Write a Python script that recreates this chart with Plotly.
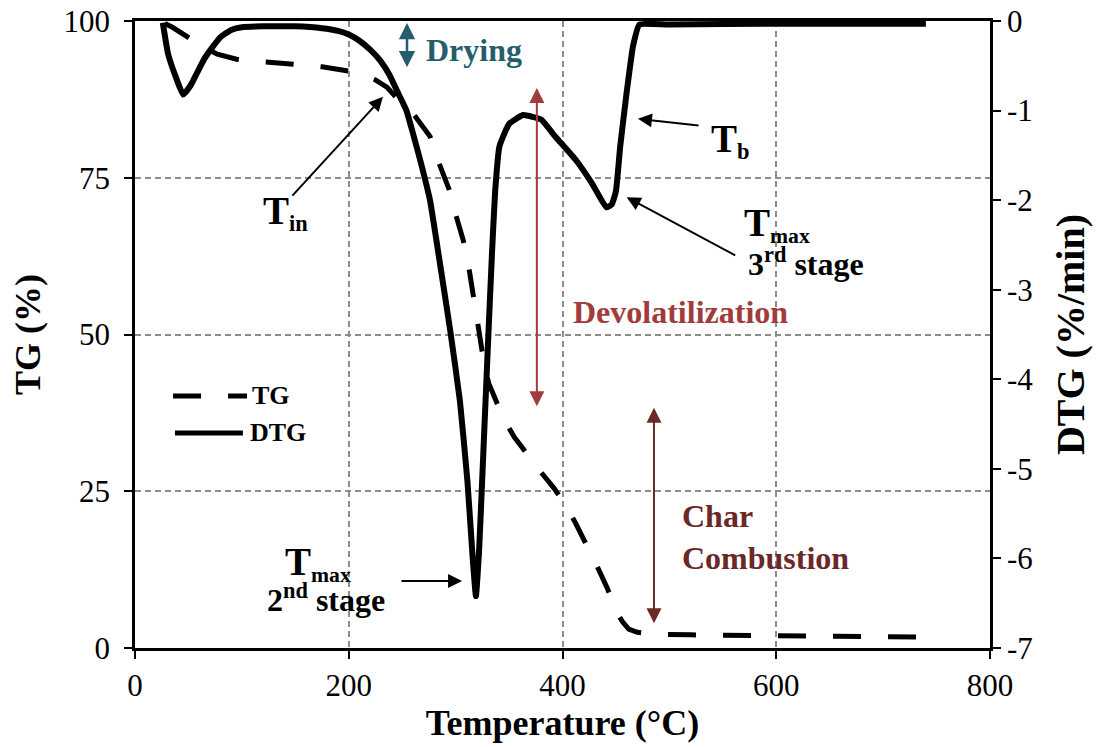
import plotly.graph_objects as go

# Thermogravimetric curve (TG, % mass remaining) vs temperature
tg_temp = [28, 35, 48, 62, 77, 95, 120, 150, 175, 200, 215, 225, 236, 245, 255, 260,
           268, 276, 285, 294, 301, 307, 313, 318, 323, 327, 331, 336, 345, 355, 368,
           380, 392, 402, 412, 422, 432, 442, 450, 456, 462, 470, 485, 520, 600, 700, 740]
tg_mass = [99.6, 99.0, 97.6, 96.0, 94.7, 93.9, 93.5, 93.1, 92.7, 92.0, 91.3, 90.6, 89.4,
           87.7, 86.3, 85.3, 83.6, 81.6, 77.1, 73.1, 68.6, 65.1, 60.0, 54.5, 49.0, 45.0,
           42.2, 40.0, 36.5, 33.6, 30.6, 28.0, 25.5, 23.0, 20.0, 16.8, 13.2, 9.5, 6.0,
           4.2, 3.0, 2.5, 2.2, 2.1, 1.95, 1.8, 1.75]

# Derivative curve (DTG, %/min) vs temperature
dtg_temp = [26, 31, 38, 45, 52, 58, 65, 72, 80, 90, 100, 120, 150, 175, 190, 200, 210,
            220, 230, 238, 246, 254, 260, 267, 276, 285, 295, 304, 311, 316, 319, 322,
            326, 330, 334, 337, 341, 350, 363, 372, 380, 394, 413, 428, 441, 446, 450,
            454, 460, 466, 472, 500, 600, 740]
dtg_rate = [-0.02, -0.37, -0.62, -0.82, -0.72, -0.58, -0.42, -0.3, -0.18, -0.1, -0.07,
            -0.06, -0.06, -0.08, -0.11, -0.15, -0.22, -0.32, -0.45, -0.6, -0.8, -1.0,
            -1.25, -1.56, -2.0, -2.68, -3.46, -4.24, -5.13, -6.0, -6.42, -5.9, -4.8,
            -3.68, -2.6, -1.9, -1.4, -1.15, -1.05, -1.07, -1.1, -1.3, -1.56, -1.82,
            -2.08, -2.05, -1.9, -1.4, -0.8, -0.28, -0.04, -0.04, -0.03, -0.03]

x_ticks = [0, 200, 400, 600, 800]
tg_ticks = [0, 25, 50, 75, 100]
dtg_ticks = [0, -1, -2, -3, -4, -5, -6, -7]
dtg_tick_text = ["0", "-1", "-2", "-3", "-4", "-5", "-6", "-7"]

FONT = "Liberation Serif"
TEAL = "#245E6D"
RED = "#A03C3C"
DARKRED = "#6B2828"
TG_DASH = "28px,27px"

fig = go.Figure()
fig.add_trace(go.Scatter(x=tg_temp, y=tg_mass, mode="lines", name="TG",
                         line=dict(color="black", width=5, dash=TG_DASH),
                         yaxis="y", showlegend=False))
fig.add_trace(go.Scatter(x=dtg_temp, y=dtg_rate, mode="lines", name="DTG",
                         line=dict(color="black", width=6, shape="spline", smoothing=0.4),
                         yaxis="y2", showlegend=False))

ann = []
def label(x, y, text, size, color="black", xanchor="center", align="center"):
    ann.append(dict(x=x, y=y, xref="x", yref="y", text=text, showarrow=False,
                    xanchor=xanchor, yanchor="middle", align=align,
                    font=dict(family=FONT, size=size, color=color)))

def arrow(x0, y0, x1, y1, color="black", width=2, both=False, size=1.4):
    ann.append(dict(x=x1, y=y1, ax=x0, ay=y0, xref="x", yref="y", axref="x", ayref="y",
                    text="", showarrow=True, arrowhead=2, arrowsize=size,
                    arrowwidth=width, arrowcolor=color,
                    startarrowhead=2, startarrowsize=size,
                    arrowside="end+start" if both else "end"))

# Stage labels with their range arrows
label(270.4, 95.4, "<b>Drying</b>", 32, TEAL, xanchor="left")
arrow(254.5, 92.4, 254.5, 99.7, TEAL, width=2.5, both=True, size=1.3)
label(510, 53.6, "<b>Devolatilization</b>", 32, RED)
arrow(376, 38.3, 376, 89.3, RED, width=2, both=True, size=1.5)
label(510, 17.7, "<b>Char<br>Combustion</b>", 32, DARKRED, xanchor="left", align="left")
arrow(485.6, 3.7, 485.6, 38.3, DARKRED, width=2, both=True, size=1.5)

# Characteristic temperatures
label(141, 69.5, "<b><span style='font-size:39px'>T</span><sub>in</sub></b>", 32)
arrow(146, 71.9, 232, 87.9)
label(557, 81.0, "<b><span style='font-size:39px'>T</span><sub>b</sub></b>", 32)
arrow(528.7, 83.3, 470.6, 84.4)
label(600.7, 67.5, "<b><span style='font-size:39px'>T</span><sub>max</sub></b>", 31)
label(628, 61.6, "<b>3<sup>rd</sup> stage</b>", 32)
arrow(563, 62.5, 460, 71.9)
label(171, 13.4, "<b><span style='font-size:39px'>T</span><sub>max</sub></b>", 31)
label(179, 8.0, "<b>2<sup>nd</sup> stage</b>", 32)
arrow(248, 10.7, 306, 10.7)

# Legend keys
label(107.6, 40.2, "<b>TG</b>", 26, xanchor="left")
label(105.7, 34.3, "<b>DTG</b>", 26, xanchor="left")

shapes = [
    dict(type="line", xref="x", yref="y", x0=35.6, x1=104.8, y0=40.2, y1=40.2,
         line=dict(color="black", width=5, dash=TG_DASH)),
    dict(type="line", xref="x", yref="y", x0=37.4, x1=101, y0=34.3, y1=34.3,
         line=dict(color="black", width=5)),
]

axis_font = dict(family=FONT, size=31, color="black")
grid = dict(showgrid=True, gridcolor="#8c8c8c", gridwidth=1.5, griddash="6px,4px")
ticks = dict(ticks="outside", ticklen=8, tickwidth=2, tickcolor="black",
             tickfont=axis_font, showline=True, linecolor="black", linewidth=2.5,
             zeroline=False, automargin=False)

fig.update_layout(
    width=1101, height=747,
    margin=dict(l=135, r=111, t=21, b=99, autoexpand=False),
    plot_bgcolor="white", paper_bgcolor="white",
    annotations=ann, shapes=shapes,
    xaxis=dict(range=[0, 800], tickvals=x_ticks, mirror=True, **ticks, **grid,
               title=dict(text="<b>Temperature (°C)</b>",
                          font=dict(family=FONT, size=36, color="black"), standoff=8)),
    yaxis=dict(range=[0, 100], tickvals=tg_ticks, ticklabelstandoff=8, **ticks, **grid,
               title=dict(text="<b>TG (%)</b>",
                          font=dict(family=FONT, size=36, color="black"), standoff=12)),
    yaxis2=dict(range=[-7, 0], tickvals=dtg_ticks, ticktext=dtg_tick_text,
                overlaying="y", side="right", showgrid=False, **ticks,
                title=dict(text="<b>DTG (%/min)</b>",
                           font=dict(family=FONT, size=40, color="black"), standoff=24)),
)

fig.write_html("out.html")
